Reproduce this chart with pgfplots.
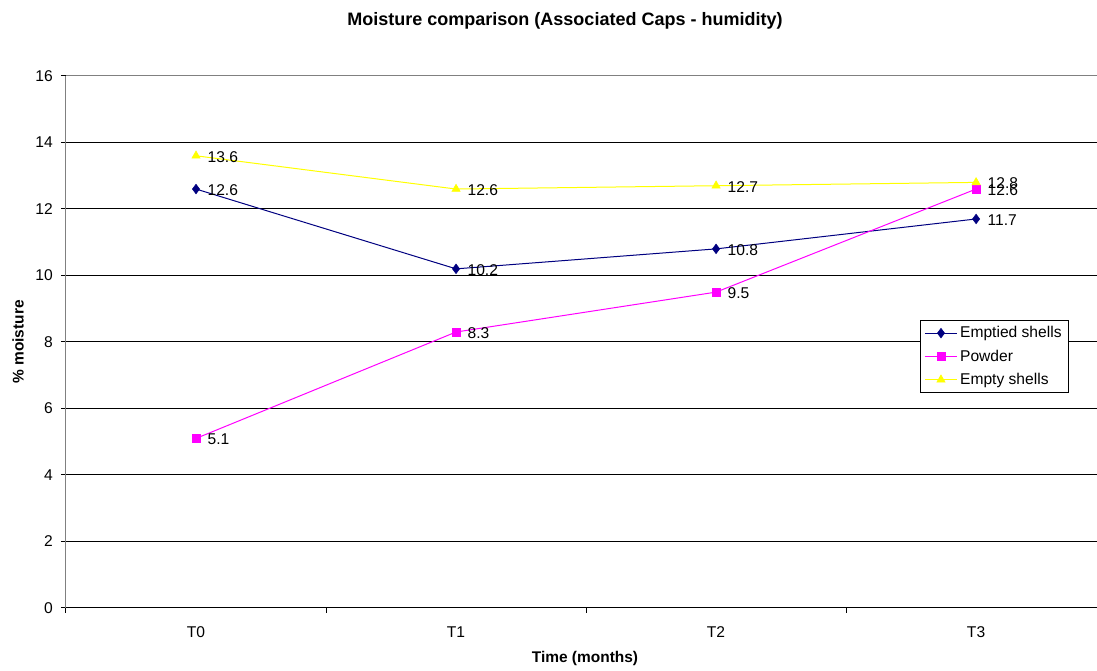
\documentclass[border=0pt]{standalone}
\usepackage{pgfplots}
\pgfplotsset{compat=1.18}
\usepackage{fontspec}
\setmainfont{Liberation Sans}
\definecolor{xnavy}{RGB}{0,0,128}
\definecolor{xmag}{RGB}{255,0,255}
\definecolor{xyel}{RGB}{255,255,0}
\definecolor{xgray}{RGB}{128,128,128}
\newcommand{\tfont}{\fontsize{11.7}{14}\selectfont}
\begin{document}
\begin{tikzpicture}
\useasboundingbox (0,0) rectangle (822.75pt,503.25pt);
\node[font=\fontsize{13.5}{16}\selectfont\bfseries] at (423.75pt,487.5pt) {Moisture comparison (Associated Caps - humidity)};
\node[font=\fontsize{11.6}{13.9}\selectfont\bfseries] at (438.75pt,9pt) {Time (months)};
\node[font=\fontsize{11.6}{13.9}\selectfont\bfseries, rotate=90] at (13.5pt,246.75pt) {\% moisture};
\begin{axis}[
  at={(49.5pt,47.25pt)}, anchor=south west,
  scale only axis, width=773.25pt, height=399pt,
  xmin=-0.5, xmax=3.465, ymin=0, ymax=16,
  ytick={0,2,...,16},
  xtick={0,1,2,3}, xticklabels={T0,T1,T2,T3},
  minor xtick={-0.5,0.5,1.5,2.5},
  major x tick style={draw=none},
  minor x tick style={black, line width=0.75pt},
  major y tick style={black, line width=0.75pt},
  tick align=outside,
  major tick length=3.75pt, minor tick length=3.75pt,
  axis lines*=left,
  axis line style={-},
  x axis line style={black, line width=0.75pt},
  y axis line style={xgray, line width=0.75pt},
  ymajorgrids, grid style={black, line width=0.75pt},
  /pgf/number format/assume math mode=true,
  ticklabel style={font=\tfont},
  yticklabel style={inner sep=0pt, xshift=-6pt},
  xticklabel style={inner sep=0pt, yshift=-10pt},
  nodes near coords,
  every node near coord/.append style={anchor=west, inner sep=0pt, xshift=8.5pt, yshift=-0.8pt, font=\tfont, text=black},
  legend image code/.code={\draw[mark repeat=2,mark phase=2] plot coordinates {(0pt,0pt)(12pt,0pt)(24pt,0pt)};},
  legend style={at={(0.8283,0.5414)}, anchor=north west, draw=black, line width=0.75pt, font=\tfont, row sep=3.5pt, inner xsep=3pt, inner ysep=2.5pt, nodes={inner xsep=2pt, inner ysep=2pt}},
  legend cell align=left,
  every axis plot/.append style={line width=0.75pt},
]
\addplot[xnavy, mark=diamond*, mark size=3.6pt, mark options={fill=xnavy, draw=xnavy, line width=0.4pt}] coordinates {(0,12.6) (1,10.2) (2,10.8) (3,11.7)};
\addlegendentry{Emptied shells}
\addplot[xmag, mark=square*, mark size=3pt, mark options={fill=xmag, draw=xmag, line width=0.4pt}] coordinates {(0,5.1) (1,8.3) (2,9.5) (3,12.6)};
\addlegendentry{Powder}
\addplot[xyel, mark=triangle*, mark size=3.6pt, mark options={fill=xyel, draw=xyel, line width=0.4pt}] coordinates {(0,13.6) (1,12.6) (2,12.7) (3,12.8)};
\addlegendentry{Empty shells}
\draw[xgray, line width=0.75pt] (rel axis cs:0,1) -- (rel axis cs:1,1);
\end{axis}
\end{tikzpicture}
\end{document}
